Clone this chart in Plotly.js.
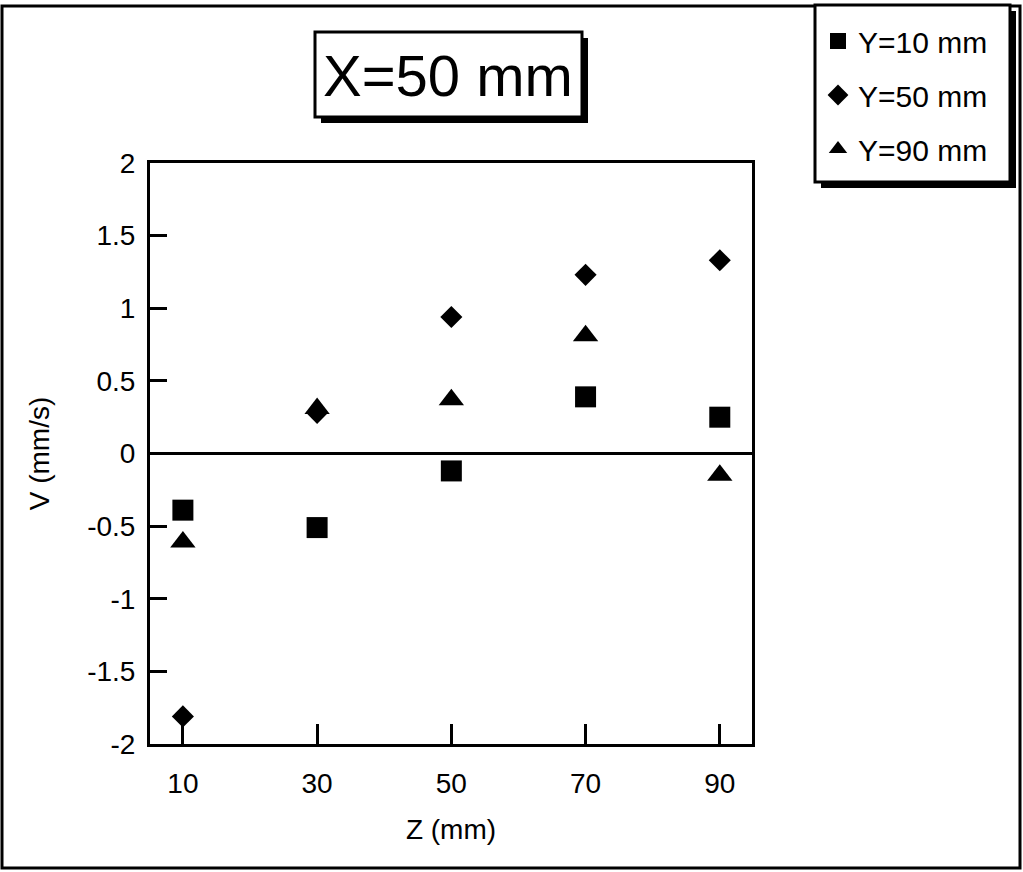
<!DOCTYPE html>
<html>
<head>
<meta charset="utf-8">
<script src="https://cdn.plot.ly/plotly-3.0.1.min.js"></script>
<style>html,body{margin:0;padding:0;background:#fff;}#chart{width:1023px;height:872px;}</style>
</head>
<body>
<div id="chart"></div>
<script>
// Data
var zValues = [10, 30, 50, 70, 90];
var vY10 = [-0.39, -0.51, -0.12, 0.39, 0.25];
var vY50 = [-1.81, 0.28, 0.94, 1.23, 1.33];
var vY90 = [-0.61, 0.31, 0.37, 0.81, -0.15];
var seriesNames = ['Y=10 mm', 'Y=50 mm', 'Y=90 mm'];
var xTickVals = [10, 30, 50, 70, 90];
var yTickVals = [2, 1.5, 1, 0.5, 0, -0.5, -1, -1.5, -2];
var yTickText = ['2', '1.5', '1', '0.5', '0', '-0.5', '-1', '-1.5', '-2'];
var chartTitle = 'X=50 mm';
var xTitle = 'Z (mm)';
var yTitle = 'V (mm/s)';

var W = 1023, H = 872;
var L = 150, R = 752, T = 163, B = 744;
function px(x) { return (x - L) / (R - L); }
function py(y) { return (B - y) / (B - T); }

var FONT = 'Liberation Sans, Arial, sans-serif';

var traces = [
  {x: zValues, y: vY10, name: seriesNames[0], mode: 'markers', type: 'scatter', legendgroup: 'a',
   marker: {symbol: 'square', size: 21, color: '#000'}},
  {x: zValues, y: vY50, name: seriesNames[1], mode: 'markers', type: 'scatter', legendgroup: 'b',
   marker: {symbol: 'diamond', size: 17, color: '#000'}},
  {x: zValues, y: vY90, name: seriesNames[2], mode: 'markers', type: 'scatter', legendgroup: 'c',
   marker: {symbol: 'triangle-up', size: 22, color: '#000'}}
];

function rect(x0, y0, x1, y1, opts) {
  return Object.assign({type: 'rect', xref: 'paper', yref: 'paper',
    x0: px(x0), x1: px(x1), y0: py(y1), y1: py(y0)}, opts);
}

var shapes = [
  // outer frame
  rect(2, 6, 1020, 868, {line: {color: '#000', width: 3}, fillcolor: 'rgba(0,0,0,0)', layer: 'below'}),
  // title box shadow + box
  rect(321, 38, 588, 123, {line: {width: 0}, fillcolor: '#000'}),
  rect(315, 32, 582, 117, {line: {color: '#000', width: 3}, fillcolor: '#fff'}),
  // legend box shadow + box
  rect(821, 11, 1016, 188, {line: {width: 0}, fillcolor: '#000'}),
  rect(815, 5, 1010, 182, {line: {color: '#000', width: 3}, fillcolor: '#fff'})
];

var layout = {
  width: W, height: H,
  margin: {l: L, r: W - R, t: T, b: H - B, pad: 0},
  paper_bgcolor: '#fff', plot_bgcolor: '#fff',
  font: {family: FONT, color: '#000', size: 28},
  showlegend: true,
  legend: {
    x: px(818), y: py(15), xanchor: 'left', yanchor: 'top',
    bgcolor: 'rgba(0,0,0,0)', borderwidth: 0,
    font: {family: FONT, size: 30, color: '#000'},
    traceorder: 'grouped', tracegroupgap: 12, itemwidth: 30, itemsizing: 'trace'
  },
  xaxis: {
    range: [5.1, 94.8], tickvals: xTickVals, ticks: 'inside', ticklen: 20, tickwidth: 3,
    tickcolor: '#000', showline: true, linewidth: 3, linecolor: '#000', mirror: true,
    showgrid: false, zeroline: false, tickfont: {size: 28}, ticklabelstandoff: 12,
    title: {text: xTitle, font: {size: 28}, standoff: 22}
  },
  yaxis: {
    range: [-2, 2], tickvals: yTickVals, ticktext: yTickText, ticks: 'inside', ticklen: 17, tickwidth: 3,
    tickcolor: '#000', showline: true, linewidth: 3, linecolor: '#000', mirror: true,
    showgrid: false, zeroline: true, zerolinewidth: 3, zerolinecolor: '#000', tickfont: {size: 28},
    ticklabelstandoff: 6,
    title: {text: yTitle, font: {size: 28}, standoff: 30}
  },
  shapes: shapes,
  annotations: [
    {text: chartTitle, xref: 'paper', yref: 'paper', x: px(448), y: py(75), xanchor: 'center', yanchor: 'middle',
     showarrow: false, font: {family: FONT, size: 58, color: '#000'}}
  ]
};

Plotly.newPlot('chart', traces, layout, {staticPlot: true, displayModeBar: false});
</script>
</body>
</html>
